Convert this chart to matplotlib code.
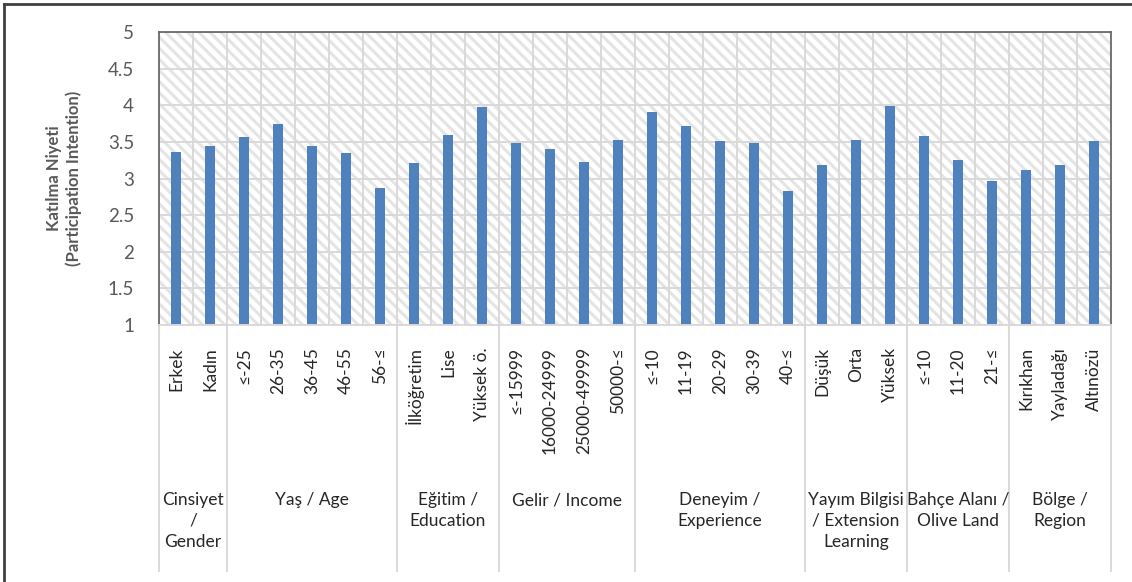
# participation intention by respondent group, Excel-style column chart

import numpy as np
import matplotlib
matplotlib.use('Agg')
import matplotlib.pyplot as plt
from matplotlib.patches import Rectangle
from matplotlib.lines import Line2D

plt.rcParams['font.family'] = ['Lato', 'DejaVu Sans']
plt.rcParams['hatch.linewidth'] = 2.2

categories = ['Erkek', 'Kadın',
              '≤-25', '26-35', '36-45', '46-55', '56-≤',
              'İlköğretim', 'Lise', 'Yüksek ö.',
              '≤-15999', '16000-24999', '25000-49999', '50000-≤',
              '≤-10', '11-19', '20-29', '30-39', '40-≤',
              'Düşük', 'Orta', 'Yüksek',
              '≤-10', '11-20', '21-≤',
              'Kırıkhan', 'Yayladağı', 'Altınözü']
values = [3.36, 3.45,
          3.56, 3.75, 3.44, 3.35, 2.87,
          3.21, 3.59, 3.97,
          3.48, 3.40, 3.22, 3.52,
          3.91, 3.72, 3.51, 3.49, 2.83,
          3.19, 3.53, 3.99,
          3.58, 3.25, 2.97,
          3.12, 3.19, 3.51]
groups = ['Cinsiyet\n/\nGender', 'Yaş / Age', 'Eğitim /\nEducation',
          'Gelir / Income', 'Deneyim /\nExperience',
          'Yayım Bilgisi\n/ Extension\nLearning', 'Bahçe Alanı /\nOlive Land',
          'Bölge /\nRegion']
group_sizes = [2, 5, 3, 4, 5, 3, 3, 3]
yticks = [1, 1.5, 2, 2.5, 3, 3.5, 4, 4.5, 5]

W, H = 1132, 582
fig = plt.figure(figsize=(W / 100, H / 100), dpi=100)
x0, x1, y0, y1 = 159, 1111, 32, 325
ax = fig.add_axes([x0 / W, 1 - y1 / H, (x1 - x0) / W, (y1 - y0) / H])

def ypx(py):
    # pixel row -> axes fraction
    return (y1 - py) / (y1 - y0)

# hatched plot area
bg = Rectangle((0, 0), 1, 1, transform=ax.transAxes, facecolor='white',
               edgecolor='#e4e4e4', hatch='\\\\\\', linewidth=0, zorder=0.1)
ax.add_patch(bg)
ax.patch.set_visible(False)

x = np.arange(len(categories))
ax.bar(x, values, width=0.3, color='#4f81bd', zorder=2)

ax.set_xlim(-0.5, len(categories) - 0.5)
ax.set_ylim(1, 5)
ax.set_yticks(yticks)
ax.set_yticklabels(['%g' % t for t in yticks], fontsize=13.5, color='#595959')
ax.tick_params(axis='y', length=0, pad=18)

ax.set_xticks(x)
ax.set_xticklabels(categories, rotation=90, fontsize=12.5, color='#262626')
ax.tick_params(axis='x', which='major', length=0, pad=16)
ax.set_xticks(np.arange(-0.5, len(categories), 1), minor=True)
ax.tick_params(axis='x', which='minor', length=0)

ax.set_axisbelow(True)
ax.grid(axis='y', color='#d9d9d9', linewidth=1.4)
ax.grid(axis='x', which='minor', color='#d9d9d9', linewidth=1.4)

for s in ['top', 'left', 'right']:
    ax.spines[s].set_color('#6a6a6a')
    ax.spines[s].set_linewidth(1.3)
ax.spines['bottom'].set_color('#d9d9d9')
ax.spines['bottom'].set_linewidth(1.4)

# group separators and group labels under the tick labels
trans = ax.get_xaxis_transform()
edges = np.concatenate([[0], np.cumsum(group_sizes)]) - 0.5
for e in edges:
    ax.plot([e, e], [0, ypx(571)], transform=trans, color='#d9d9d9',
            linewidth=1.4, clip_on=False)
for g, a, b in zip(groups, edges[:-1], edges[1:]):
    ax.text((a + b) / 2, ypx(492), g, transform=trans, ha='center', va='top',
            fontsize=12.5, color='#262626', linespacing=1.38)

fig.text(64 / W, 1 - 178 / H, 'Katılma Niyeti\n(Participation Intention)',
         rotation=90, ha='center', va='center', fontsize=12,
         fontweight='bold', color='#595959', linespacing=1.2)

# outer chart frame (left and top edges visible in the crop)
fig.add_artist(Line2D([4 / W, 4 / W], [0, 1 - 4 / H], color='#404040', linewidth=2))
fig.add_artist(Line2D([4 / W, 1], [1 - 4 / H, 1 - 4 / H], color='#404040', linewidth=2))

fig.savefig('out.png', dpi=100)
